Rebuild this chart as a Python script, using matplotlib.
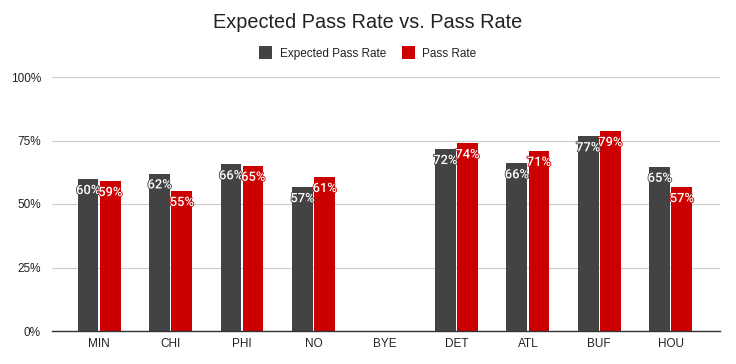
import matplotlib
matplotlib.use("Agg")
import matplotlib.pyplot as plt
import matplotlib.patheffects as pe
import numpy as np

teams = ["MIN", "CHI", "PHI", "NO", "BYE", "DET", "ATL", "BUF", "HOU"]
expected = [0.598, 0.62, 0.656, 0.566, np.nan, 0.716, 0.66, 0.766, 0.646]
actual = [0.59, 0.551, 0.65, 0.606, np.nan, 0.739, 0.709, 0.787, 0.566]

dark = "#434343"
red = "#cc0000"

plt.rcParams['font.family'] = ['Liberation Sans', 'DejaVu Sans']

fig = plt.figure(figsize=(7.36, 3.64), dpi=100)
ax = fig.add_axes([52/736, 1-331/364, 668/736, 254/364])

x = np.arange(len(teams))
w = 0.29
off = 0.155
b1 = ax.bar(x - off, expected, w, color=dark, label="Expected Pass Rate", zorder=3)
b2 = ax.bar(x + off, actual, w, color=red, label="Pass Rate", zorder=3)

# data labels inside the top of each bar
for bars, vals, col in [(b1, expected, dark), (b2, actual, red)]:
    for r, v in zip(bars, vals):
        if np.isnan(v):
            continue
        t = ax.text(r.get_x() + r.get_width()/2, v - 0.045, "{:.0%}".format(v),
                    ha="center", va="center", color="white", fontsize=9.3,
                    family=["Roboto", "DejaVu Sans"], fontweight="medium", zorder=4)
        t.set_path_effects([pe.withStroke(linewidth=1.2, foreground=col)])

ax.set_xlim(-0.66, 8.69)
ax.set_ylim(0, 1)
ax.set_yticks([0, 0.25, 0.5, 0.75, 1.0])
ax.set_yticklabels(["0%", "25%", "50%", "75%", "100%"])
ax.set_xticks(x)
ax.set_xticklabels(teams)
ax.tick_params(axis="both", length=0, labelsize=8.5, colors="#222222")
ax.tick_params(axis="y", pad=8)
ax.tick_params(axis="x", pad=5)
ax.grid(axis="y", color="#cccccc", linewidth=0.8, zorder=0)
for s in ["top", "right", "left"]:
    ax.spines[s].set_visible(False)
ax.spines["bottom"].set_color("#333333")
ax.spines["bottom"].set_linewidth(1.0)
ax.spines["bottom"].set_zorder(5)

fig.text(0.5, 1-22/364, "Expected Pass Rate vs. Pass Rate", ha="center", va="center",
         fontsize=14.3, color="#222222")
fig.legend(handles=[b1, b2], loc="center", bbox_to_anchor=(0.5, 1-53/364), ncol=2,
           frameon=False, fontsize=8.5, handlelength=1.1, handleheight=1.3,
           handletextpad=0.6, columnspacing=1.4, labelcolor="#222222")

fig.savefig("out.png", dpi=100, facecolor="white")
